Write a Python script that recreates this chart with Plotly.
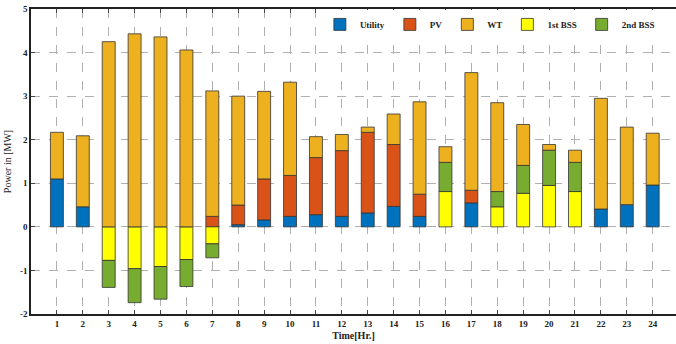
import plotly.graph_objects as go

hours = list(range(1, 25))
utility = [1.10, 0.46, None, None, None, None, None, 0.05, 0.16, 0.24, 0.28, 0.24,
           0.32, 0.47, 0.24, None, 0.55, None, None, None, None, 0.41, 0.51, 0.96]
pv = [None, None, None, None, None, None, 0.24, 0.45, 0.94, 0.94, 1.31, 1.51,
      1.85, 1.42, 0.51, None, 0.29, None, None, None, None, None, None, None]
wt = [1.07, 1.63, 4.25, 4.43, 4.36, 4.06, 2.88, 2.50, 2.01, 2.14, 0.48, 0.37,
      0.12, 0.70, 2.12, 0.36, 2.70, 2.04, 0.94, 0.13, 0.28, 2.54, 1.78, 1.19]
bss1 = [None, None, -0.77, -0.96, -0.91, -0.75, -0.39, None, None, None, None, None,
        None, None, None, 0.81, None, 0.46, 0.77, 0.95, 0.81, None, None, None]
bss2 = [None, None, -0.62, -0.78, -0.75, -0.62, -0.32, None, None, None, None, None,
        None, None, None, 0.67, None, 0.35, 0.64, 0.81, 0.67, None, None, None]

ytick_vals = [-2, -1, 0, 1, 2, 3, 4, 5]
ytick_text = ["-2", "-1", "0", "1", "2", "3", "4", "5"]

series = [
    ("Utility", utility, "#0072BD", 1),
    ("PV", pv, "#D95319", 2),
    ("1st BSS", bss1, "#FFFF00", 4),
    ("2nd BSS", bss2, "#77AC30", 5),
    ("WT", wt, "#EDB120", 3),
]

fig = go.Figure()
for name, vals, color, rank in series:
    fig.add_trace(go.Bar(
        x=hours, y=vals, name=name, width=0.5, legendrank=rank,
        marker=dict(color=color, line=dict(color="#333333", width=0.8)),
    ))

serif = "Liberation Serif"
fig.update_layout(
    width=676, height=344,
    margin=dict(l=31, r=0, t=9, b=30),
    barmode="relative",
    plot_bgcolor="white", paper_bgcolor="white",
    font=dict(family=serif, size=10, color="#222222"),
    legend=dict(orientation="h", x=0.975, xanchor="right", y=0.997, yanchor="top",
                bgcolor="white", font=dict(family=serif, size=9, weight="bold"),
                itemwidth=30, tracegroupgap=0, traceorder="normal"),
    xaxis=dict(
        range=[0, 24.9], tickvals=hours, ticks="inside", ticklen=4,
        showline=True, linecolor="#222222", linewidth=1.5, mirror="ticks",
        showgrid=True, gridcolor="#b0b0b0", griddash="dash", gridwidth=1,
        tickfont=dict(size=9, weight="bold"),
        title=dict(text="Time[Hr.]", font=dict(size=10, weight="bold"), standoff=4),
    ),
    yaxis=dict(
        range=[-2, 5], tickvals=ytick_vals, ticktext=ytick_text, ticks="inside", ticklen=4,
        showline=True, linecolor="#222222", linewidth=1.5,
        showgrid=True, gridcolor="#b0b0b0", griddash="dash", gridwidth=1,
        zeroline=False, tickfont=dict(size=9, weight="bold"),
        title=dict(text="Power in [MW]", font=dict(size=10), standoff=6),
    ),
)

fig.write_html("out.html")
